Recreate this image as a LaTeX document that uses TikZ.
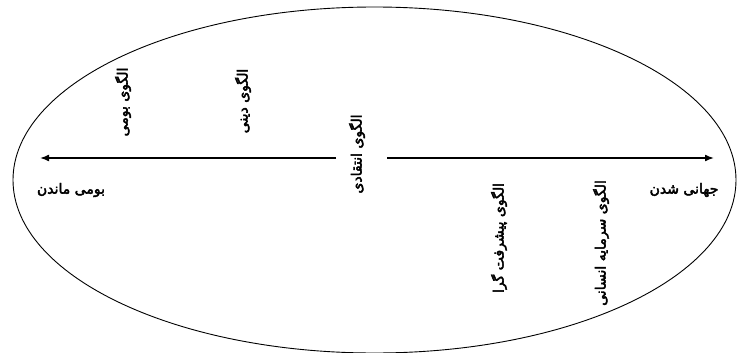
\documentclass[tikz,border=0pt]{standalone}
\usepackage{fontspec}
\usetikzlibrary{arrows.meta}
\TeXXeTstate=1
\newfontfamily\arabicfont[Script=Arabic,FakeBold=3]{DejaVu Sans}
\tikzset{
  vlabel/.style={font=\arabicfont\fontsize{14}{16}\selectfont, rotate=90, inner sep=0pt},
  hlabel/.style={font=\arabicfont\fontsize{14}{16}\selectfont, inner sep=0pt},
  axis/.style={line width=1.6pt, -{Latex[length=9pt,width=7pt]}},
  oval/.style={draw, line width=0.9pt}
}
\begin{document}
\begin{tikzpicture}[x=1pt,y=1pt]
\useasboundingbox (0,0) rectangle (737,-353);
\clip (0,0) rectangle (737,-353);
\draw[oval] (374.5,-180) ellipse [x radius=361.5, y radius=173];
\node[vlabel] (bumi) at (123,-102) {\beginR الگوی بومی\endR};
\node[vlabel] (dini) at (243,-101) {\beginR الگوی دینی\endR};
\node[vlabel] (entq) at (357,-154) {\beginR الگوی انتقادی\endR};
\node[vlabel] (pish) at (499,-238) {\beginR الگوی پیشرفت گرا\endR};
\node[vlabel] (sarm) at (601,-243) {\beginR الگوی سرمایه انسانی\endR};
\node[hlabel] (mandan) at (71,-190) {\beginR بومی ماندن\endR};
\node[hlabel] (jahani) at (684,-190) {\beginR جهانی شدن\endR};
\coordinate (lstart) at (336,-158);
\coordinate (lend) at (40,-158);
\coordinate (rstart) at (387,-158);
\coordinate (rend) at (714,-158);
\draw[axis] (lstart) -- (lend);
\draw[axis] (rstart) -- (rend);
\end{tikzpicture}
\end{document}
